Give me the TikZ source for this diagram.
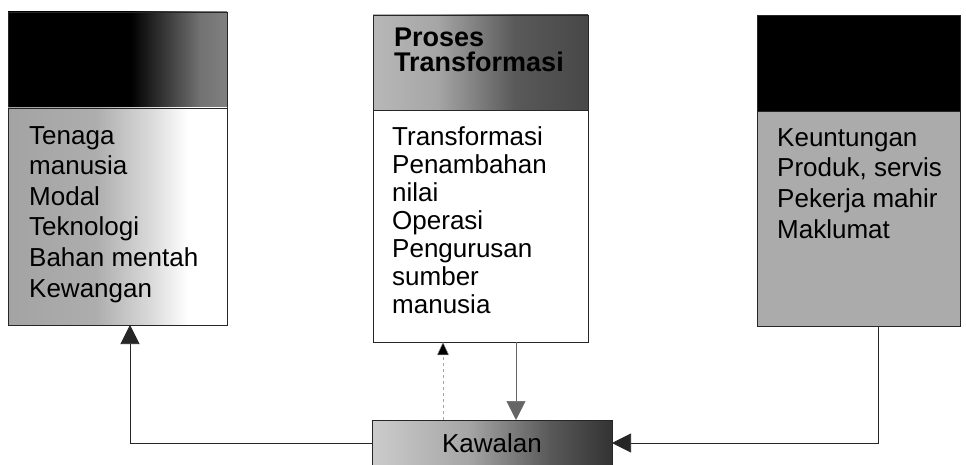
\documentclass[tikz,border=0pt]{standalone}
\usepackage{fontspec}
\setmainfont{Liberation Sans}
\usetikzlibrary{arrows.meta}
\pgfdeclarehorizontalshading{lheadsh}{100bp}{color(0bp)=(black); color(25bp)=(black); color(53bp)=(black); color(69bp)=(black!55); color(75bp)=(black!50); color(100bp)=(black!50)}
\pgfdeclarehorizontalshading{lbodysh}{100bp}{color(0bp)=(black!36); color(25bp)=(black!36); color(45bp)=(black!32); color(58bp)=(black!14); color(66bp)=(white); color(75bp)=(white); color(100bp)=(white)}
\pgfdeclarehorizontalshading{mheadsh}{100bp}{color(0bp)=(black!28); color(25bp)=(black!28); color(40bp)=(black!35); color(58bp)=(black!65); color(75bp)=(black!72); color(100bp)=(black!72)}
\pgfdeclarehorizontalshading{kawsh}{100bp}{color(0bp)=(black!20); color(25bp)=(black!20); color(45bp)=(black!35); color(62bp)=(black!65); color(75bp)=(black!80); color(100bp)=(black!80)}
\begin{document}
\begin{tikzpicture}[x=1pt,y=-1pt,
  boxpart/.style={draw=black!85, line width=0.6pt, inner sep=0pt, outer sep=0pt, anchor=north west},
  bodytext/.style={inner sep=0pt, anchor=base west, align=left, font=\fontsize{26}{30.6}\selectfont},
  conn/.style={line width=0.7pt, draw=black!85, -{Triangle[length=19pt,width=19pt]}},
  ]
\useasboundingbox (0,0) rectangle (966,465);
% left box
\node[boxpart, shading=lheadsh, minimum width=219pt, minimum height=96pt] (lhead) at (8,12) {};
\node[boxpart, shading=lbodysh, minimum width=219pt, minimum height=217pt] (lbody) at (8,108) {};
% (base anchor of a multi-line node = baseline of its last line)
\node[bodytext] (ltext) at (29,297) {Tenaga\\manusia\\Modal\\Teknologi\\Bahan mentah\\Kewangan};
% middle box
\node[boxpart, shading=mheadsh, minimum width=215pt, minimum height=95pt] (mhead) at (373,15) {};
\node[boxpart, fill=white, minimum width=215pt, minimum height=232pt] (mbody) at (373,110) {};
\node[bodytext, font=\fontsize{27}{25}\selectfont\bfseries] (mtitle) at (394,72) {Proses\\Transformasi};
\node[bodytext, font=\fontsize{26}{28}\selectfont] (mtext) at (392,313) {Transformasi\\Penambahan\\nilai\\Operasi\\Pengurusan\\sumber\\manusia};
% right box
\node[boxpart, fill=black, minimum width=203pt, minimum height=96pt] (rhead) at (757,15) {};
\node[boxpart, fill=black!33, minimum width=203pt, minimum height=215pt] (rbody) at (757,111) {};
\node[bodytext] (rtext) at (777,238) {Keuntungan\\Produk, servis\\Pekerja mahir\\Maklumat};
% control box
\node[boxpart, shading=kawsh, minimum width=240pt, minimum height=46pt, font=\fontsize{26}{30}\selectfont] (kaw) at (372,420) {Kawalan};
% connectors
\draw[conn] ([xshift=20pt]rbody.south) |- (kaw.east);
\draw[conn] (kaw.west) -| ([xshift=12.5pt]lbody.south);
\draw[conn, draw=black!60, line width=0.5pt] ([xshift=35.5pt]mbody.south) -- ([xshift=35.5pt]mbody.south |- kaw.north);
\draw[conn, draw=black!35, line width=0.5pt, dashed, -{Triangle[length=13pt,width=12pt,fill=black]}] ([xshift=-37.5pt]mbody.south |- kaw.north) -- ([xshift=-37.5pt]mbody.south);
\end{tikzpicture}
\end{document}
